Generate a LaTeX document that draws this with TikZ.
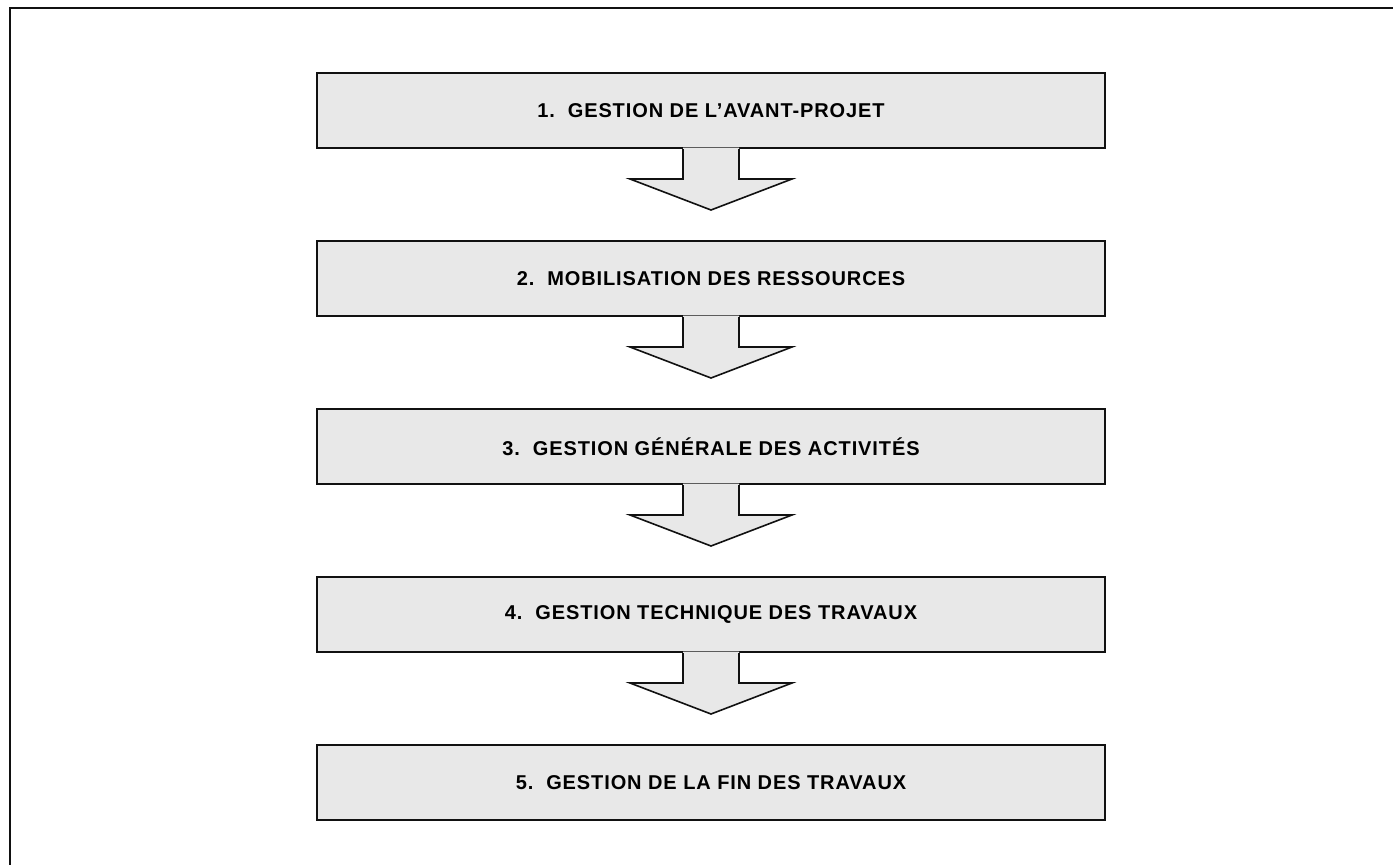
\documentclass[tikz,border=0pt]{standalone}
\usepackage{fontspec}
\setmainfont{Liberation Sans}
\newfontfamily\boxfont[LetterSpace=4.5]{Liberation Sans}
\usetikzlibrary{calc}
\definecolor{boxfill}{HTML}{E8E8E8}
\definecolor{edge}{HTML}{111111}
\tikzset{
  stagebox/.style={draw=edge, line width=2pt, fill=boxfill, rectangle,
    minimum width=788pt, minimum height=75pt, inner sep=0pt,
    font=\boxfont\fontsize{20}{24}\selectfont\bfseries},
  arrowfill/.style={fill=boxfill},
  arrowline/.style={draw=edge, line width=1.6pt, line join=miter},
}
\begin{document}
\begin{tikzpicture}[x=1pt,y=-1pt]
\useasboundingbox (0,0) rectangle (1393,865);
\fill[white] (0,0) rectangle (1393,865);
% outer frame (only top and left visible)
\draw[edge, line width=2.5pt] (10,870) -- (10,8) -- (1400,8);
% boxes
\foreach \i/\t in {1/{1.\ \ GESTION DE L’AVANT-PROJET},
                   2/{2.\ \ MOBILISATION DES RESSOURCES},
                   3/{3.\ \ GESTION GÉNÉRALE DES ACTIVITÉS},
                   4/{4.\ \ GESTION TECHNIQUE DES TRAVAUX},
                   5/{5.\ \ GESTION DE LA FIN DES TRAVAUX}}{
  \node[stagebox] (b\i) at (711,{110.5+168*(\i-1)}) {\t};
}
% arrows
\foreach \i in {1,2,3,4}{
  \fill[arrowfill] ($(b\i.south)+(-28,-1.5)$) -- ($(b\i.south)+(-28,30)$) -- ($(b\i.south)+(-81,30)$)
     -- ($(b\i.south)+(0,61)$) -- ($(b\i.south)+(81,30)$) -- ($(b\i.south)+(28,30)$)
     -- ($(b\i.south)+(28,-1.5)$) -- cycle;
  \draw[arrowline] ($(b\i.south)+(-28,0)$) -- ($(b\i.south)+(-28,30)$) -- ($(b\i.south)+(-81,30)$)
     -- ($(b\i.south)+(0,61)$) -- ($(b\i.south)+(81,30)$) -- ($(b\i.south)+(28,30)$)
     -- ($(b\i.south)+(28,0)$);
}
\end{tikzpicture}
\end{document}
